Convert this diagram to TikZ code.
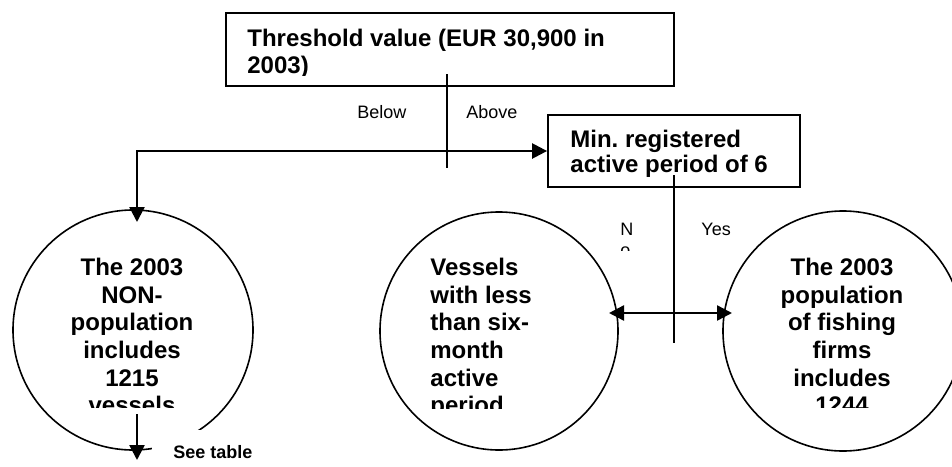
\documentclass[tikz,border=0pt]{standalone}
\usepackage{fontspec}
\setmainfont{Liberation Sans}
\usetikzlibrary{arrows.meta}
\newcommand{\tp}{\rule{0pt}{10pt}}
\frenchspacing

\begin{document}
\begin{tikzpicture}[x=0.5pt,y=-0.5pt,>={Triangle[length=7.5pt,width=7.5pt]},
  box/.style={draw,line width=0.9pt,inner sep=0pt},
  disc/.style={draw,circle,line width=0.8pt,inner sep=0pt,minimum size=120pt},
  conn/.style={line width=1.2pt},
  big/.style={inner sep=0pt,font=\fontsize{12}{13.85}\selectfont\bfseries},
  small/.style={inner sep=0pt,font=\fontsize{9}{10.35}\selectfont}]
\useasboundingbox (0,0) rectangle (952,466);

\node[box,minimum width=224pt,minimum height=36.5pt] (thr) at (450,49.5) {};
\node[box,minimum width=126pt,minimum height=36pt] (minreg) at (674,151) {};
\node[disc] (nonpop) at (133,330) {};
\node[disc,minimum size=119pt] (shortact) at (499,331) {};
\node[disc] (firms) at (843,331) {};

% texts, cut off at the lower edge of their boxes
\begin{scope}
\clip (226,13) rectangle (674,75);
\node[big,anchor=north west,align=left] (thrtxt) at (247,25.7) {\tp Threshold value (EUR 30,900 in\\2003)};
\end{scope}
\begin{scope}
\clip (548,115) rectangle (800,176);
\node[big,font=\fontsize{12}{12.2}\selectfont\bfseries,anchor=north west,align=left] (mintxt) at (570,127.3) {\tp Min. registered\\active period of 6};
\end{scope}
\begin{scope}
\clip (20,240) rectangle (250,407);
\node[big,anchor=north,align=center] (nonpoptxt) at (132,255) {\tp The 2003\\NON-\\population\\includes\\1215\\vessels};
\end{scope}
\begin{scope}
\clip (400,240) rectangle (610,408);
\node[big,anchor=north west,align=left] (shortacttxt) at (430,255) {\tp Vessels\\with less\\than six-\\month\\active\\period};
\end{scope}
\begin{scope}
\clip (730,240) rectangle (952,407);
\node[big,anchor=north,align=center] (firmstxt) at (842,255) {\tp The 2003\\population\\of fishing\\firms\\includes\\1244};
\end{scope}
\begin{scope}
\clip (610,215) rectangle (660,250);
\node[small,anchor=north west,align=left] (no) at (620,215) {\tp N\\o};
\end{scope}

\node[small,anchor=base west] (below) at (357,118) {Below};
\node[small,anchor=base west] (above) at (466,118) {Above};
\node[small,anchor=base west] (yes) at (701,235) {Yes};
\node[small,font=\fontsize{9}{10.35}\selectfont\bfseries,fill=white,inner xsep=10.5pt,inner ysep=7.5pt,anchor=base west] (seetab) at (152,458) {See table};

\coordinate (thrfoot) at (447,74);
\coordinate (thrend) at (447,168);
\coordinate (nonin) at (137,222);
\coordinate (minfoot) at (674,175);
\coordinate (minend) at (674,343);
\coordinate (shortin) at (609,313);
\coordinate (firmsin) at (732,313);
\coordinate (nonout) at (137,414);
\coordinate (seetabin) at (137,460);

\draw[conn] (thrfoot) -- (thrend);
\draw[conn,<->] (nonin) |- (minreg.west);
\draw[conn] (minfoot) -- (minend);
\draw[conn,<->] (shortin) -- (firmsin);
\draw[conn,->] (nonout) -- (seetabin);
\end{tikzpicture}
\end{document}
